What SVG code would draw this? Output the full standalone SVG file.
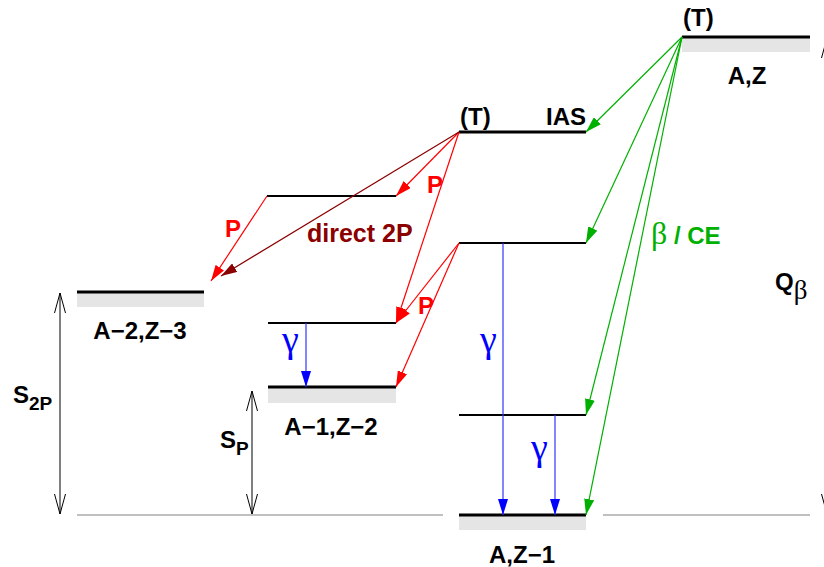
<svg xmlns="http://www.w3.org/2000/svg" width="824" height="567" viewBox="0 0 824 567">
<style>
.lbl{font-family:"Liberation Sans",Arial,Helvetica,sans-serif;font-weight:bold;font-size:24px;fill:#000}
.gr{font-family:"Liberation Serif","Times New Roman",serif;font-weight:normal}
.thick{stroke:#000;stroke-width:3}
.thin{stroke:#000;stroke-width:2}
.gray{fill:#e5e5e5}
.base{stroke:#808080;stroke-width:1}
.g{stroke:#00b000;stroke-width:1.2;fill:none}
.r{stroke:#ff0000;stroke-width:1.2;fill:none}
.dr{stroke:#8b0000;stroke-width:1.2;fill:none}
.b{stroke:#3333ff;stroke-width:1.2;fill:none}
.dim{stroke:#000;stroke-width:1;fill:none}
</style>
<defs>
<marker id="ag" viewBox="0 0 16 10" refX="16" refY="5" markerWidth="16" markerHeight="10" markerUnits="userSpaceOnUse" orient="auto"><path d="M0,0 L16,5 L0,10 z" fill="#00b000"/></marker>
<marker id="ar" viewBox="0 0 16 10" refX="16" refY="5" markerWidth="16" markerHeight="10" markerUnits="userSpaceOnUse" orient="auto"><path d="M0,0 L16,5 L0,10 z" fill="#ff0000"/></marker>
<marker id="adr" viewBox="0 0 16 10" refX="16" refY="5" markerWidth="16" markerHeight="10" markerUnits="userSpaceOnUse" orient="auto"><path d="M0,0 L16,5 L0,10 z" fill="#8b0000"/></marker>
<marker id="ab" viewBox="0 0 16 10" refX="16" refY="5" markerWidth="16" markerHeight="10" markerUnits="userSpaceOnUse" orient="auto"><path d="M0,0 L16,5 L0,10 z" fill="#0000ff"/></marker>
<marker id="ao" viewBox="0 0 20 12" refX="20" refY="6" markerWidth="20" markerHeight="12" markerUnits="userSpaceOnUse" orient="auto-start-reverse"><path d="M0,0.5 L20,6 L0,11.5" fill="none" stroke="#000" stroke-width="1"/></marker>
</defs>

<g id="baseline">
<line class="base" x1="77" y1="515" x2="443" y2="515"/>
<line class="base" x1="603" y1="515" x2="810" y2="515"/>
</g>

<g id="level-AZ">
<rect class="gray" x="682" y="38" width="128" height="14"/>
<line class="thick" x1="682" y1="37" x2="810" y2="37"/>
<text class="lbl" x="683" y="26">(T)</text>
<text class="lbl" x="747" y="84" text-anchor="middle">A,Z</text>
</g>

<g id="level-IAS">
<line class="thick" x1="459" y1="132" x2="586" y2="132"/>
<text class="lbl" x="460" y="125">(T)</text>
<text class="lbl" x="586" y="125" text-anchor="end">IAS</text>
</g>

<g id="level-AZ1-exc1">
<line class="thin" x1="459" y1="243" x2="586" y2="243"/>
</g>
<g id="level-AZ1-exc2">
<line class="thin" x1="459" y1="415" x2="586" y2="415"/>
</g>
<g id="level-AZ1">
<rect class="gray" x="459" y="516" width="127" height="14"/>
<line class="thick" x1="459" y1="515" x2="586" y2="515"/>
<text class="lbl" x="522" y="563" text-anchor="middle">A,Z−1</text>
</g>

<g id="level-A1Z2-exc1">
<line class="thin" x1="267" y1="196" x2="396" y2="196"/>
</g>
<g id="level-A1Z2-exc2">
<line class="thin" x1="268" y1="323" x2="396" y2="323"/>
</g>
<g id="level-A1Z2">
<rect class="gray" x="268" y="388" width="128" height="15"/>
<line class="thick" x1="268" y1="387" x2="396" y2="387"/>
<text class="lbl" x="331" y="435" text-anchor="middle">A−1,Z−2</text>
</g>

<g id="level-A2Z3">
<rect class="gray" x="77" y="293" width="127" height="14"/>
<line class="thick" x1="77" y1="292" x2="204" y2="292"/>
<text class="lbl" x="140" y="339" text-anchor="middle">A−2,Z−3</text>
</g>

<g id="connectors">
<line class="g" x1="682" y1="37" x2="586" y2="132" marker-end="url(#ag)"/>
<line class="g" x1="682" y1="37" x2="586" y2="243" marker-end="url(#ag)"/>
<line class="g" x1="682" y1="37" x2="586" y2="415" marker-end="url(#ag)"/>
<line class="g" x1="682" y1="37" x2="586" y2="515" marker-end="url(#ag)"/>

<line class="r" x1="459" y1="132" x2="396" y2="196" marker-end="url(#ar)"/>
<line class="r" x1="459" y1="132" x2="396" y2="323" marker-end="url(#ar)"/>
<line class="dr" x1="459" y1="132" x2="221" y2="276" marker-end="url(#adr)"/>
<line class="r" x1="267" y1="196" x2="211" y2="281" marker-end="url(#ar)"/>
<line class="r" x1="459" y1="243" x2="396" y2="323" marker-end="url(#ar)"/>
<line class="r" x1="459" y1="243" x2="396" y2="387" marker-end="url(#ar)"/>

<line class="b" x1="306" y1="323" x2="306" y2="387" marker-end="url(#ab)"/>
<line class="b" x1="503" y1="243" x2="503" y2="515" marker-end="url(#ab)"/>
<line class="b" x1="555" y1="415" x2="555" y2="515" marker-end="url(#ab)"/>

<line class="dim" x1="60" y1="293" x2="60" y2="514" marker-start="url(#ao)" marker-end="url(#ao)"/>
<line class="dim" x1="252" y1="391" x2="252" y2="514" marker-start="url(#ao)" marker-end="url(#ao)"/>
<line class="dim" x1="827" y1="38" x2="827" y2="514" marker-start="url(#ao)" marker-end="url(#ao)"/>
</g>

<g id="labels">
<text class="lbl" x="225" y="237" style="fill:#ff0000">P</text>
<text class="lbl" x="427" y="193" style="fill:#ff0000">P</text>
<text class="lbl" x="418" y="314" style="fill:#ff0000">P</text>
<text class="lbl" x="307" y="242" style="fill:#8b0000;font-size:25px">direct 2P</text>

<text class="gr" x="282" y="352" font-size="38" fill="#0000ff">γ</text>
<text class="gr" x="480" y="352" font-size="38" fill="#0000ff">γ</text>
<text class="gr" x="531" y="460" font-size="38" fill="#0000ff">γ</text>

<text x="651" y="244" fill="#00b000"><tspan class="gr" font-size="32">β</tspan><tspan font-family="Liberation Sans,Arial,sans-serif" font-weight="bold" font-size="24"> / CE</tspan></text>

<text x="775" y="290"><tspan class="lbl">Q</tspan><tspan class="gr" font-size="27" dy="9">β</tspan></text>

<text x="13" y="403"><tspan class="lbl">S</tspan><tspan class="lbl" style="font-size:19px" dy="7">2P</tspan></text>
<text x="220" y="448"><tspan class="lbl">S</tspan><tspan class="lbl" style="font-size:19px" dy="7">P</tspan></text>
</g>
</svg>
